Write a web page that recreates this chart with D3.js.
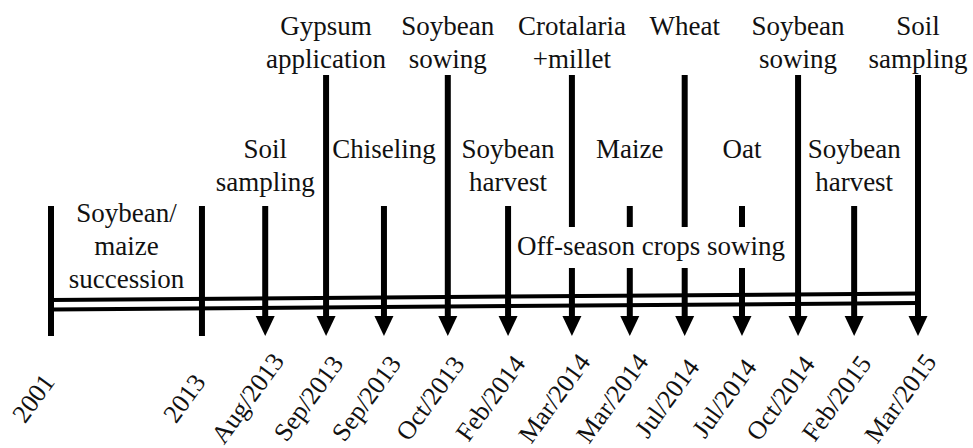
<!DOCTYPE html>
<html>
<head>
<meta charset="utf-8">
<script src="https://cdn.jsdelivr.net/npm/d3@7"></script>
<style>
  html, body { margin: 0; padding: 0; background: #fff; }
  svg text { font-family: "Liberation Serif", "Times New Roman", serif; fill: #111; }
</style>
</head>
<body>
<div id="chart"></div>
<script>
// Timeline events, left to right
const eventDates = ["2001", "2013", "Aug/2013", "Sep/2013", "Sep/2013", "Oct/2013", "Feb/2014",
  "Mar/2014", "Mar/2014", "Jul/2014", "Jul/2014", "Oct/2014", "Feb/2015", "Mar/2015"];
// position along the (schematic) timeline, in event slots
const eventPos = [-2.53, 0, 1.06, 2.08, 3.05, 4.12, 5.13, 6.2, 7.17, 8.09, 9.05, 9.99, 10.93, 12];
const eventKind = ["tick", "tick", "arrow", "arrow", "arrow", "arrow", "arrow",
  "arrow", "arrow", "arrow", "arrow", "arrow", "arrow", "arrow"];
const eventLevel = ["low", "low", "mid", "top", "mid", "top", "mid",
  "top", "mid", "top", "mid", "top", "mid", "top"];
const eventText = [[], [], ["Soil", "sampling"], ["Gypsum", "application"], ["Chiseling"],
  ["Soybean", "sowing"], ["Soybean", "harvest"], ["Crotalaria", "+millet"], ["Maize"],
  ["Wheat"], ["Oat"], ["Soybean", "sowing"], ["Soybean", "harvest"], ["Soil", "sampling"]];
const periodText = ["Soybean/", "maize", "succession"];
const offSeasonText = "Off-season crops sowing";
const offSeasonIdx = [7, 8, 9, 10];

const width = 973;
const height = 448;
const margins = { left: 51, right: 55 };
const fontSize = 27;
const lineH = 32.5;

const events = eventDates.map((d, i) => ({
  date: d, pos: eventPos[i], kind: eventKind[i], level: eventLevel[i], text: eventText[i], idx: i
}));

const x = d3.scaleLinear()
  .domain(d3.extent(eventPos))
  .range([margins.left, width - margins.right]);

// vertical layout
const yStart = { top: 75, mid: 206, low: 206 };
const yText = { top: 35, mid: 158 };
const gapTop = 227, gapBottom = 268;
const yTip = 336, headH = 20, headW = 19;
// the double axis line is slightly tilted in the original
const axisY = d3.scaleLinear().domain(x.range()).range([300, 293.5]);
const axisGap = 9.5;

const svg = d3.select("#chart")
  .append("svg")
  .attr("width", width)
  .attr("height", height);

// double horizontal line
const axisG = svg.append("g").attr("class", "axis-line");
[0, axisGap].forEach((off) => {
  axisG.append("line")
    .attr("x1", x.range()[0]).attr("x2", x.range()[1])
    .attr("y1", axisY(x.range()[0]) + off).attr("y2", axisY(x.range()[1]) + off)
    .attr("stroke", "#000").attr("stroke-width", 4);
});

// vertical lines (split where the off-season label sits)
const stemsG = svg.append("g").attr("class", "stems");
events.forEach((d) => {
  const yEnd = d.kind === "arrow" ? yTip - headH + 2 : yTip;
  const segs = offSeasonIdx.includes(d.idx)
    ? [[yStart[d.level], gapTop], [gapBottom, yEnd]]
    : [[yStart[d.level], yEnd]];
  segs.forEach(([y1, y2]) => {
    stemsG.append("line")
      .attr("x1", x(d.pos)).attr("x2", x(d.pos))
      .attr("y1", y1).attr("y2", y2)
      .attr("stroke", "#000").attr("stroke-width", 6);
  });
});

// arrow heads
svg.append("g").attr("class", "heads")
  .selectAll("path")
  .data(events.filter((d) => d.kind === "arrow"))
  .join("path")
  .attr("d", (d) => {
    const cx = x(d.pos);
    return `M${cx - headW / 2},${yTip - headH}L${cx + headW / 2},${yTip - headH}L${cx},${yTip}Z`;
  })
  .attr("fill", "#000");

// event labels above the lines
const labelsG = svg.append("g").attr("class", "labels")
  .attr("font-family", "'Liberation Serif', 'Times New Roman', serif");
events.filter((d) => d.text.length).forEach((d) => {
  const t = labelsG.append("text")
    .attr("x", x(d.pos))
    .attr("y", yText[d.level])
    .attr("text-anchor", "middle")
    .attr("font-size", fontSize);
  d.text.forEach((line, j) => {
    t.append("tspan").attr("x", x(d.pos)).attr("dy", j === 0 ? 0 : lineH).text(line);
  });
});

// period label between 2001 and 2013
const px = (x(eventPos[0]) + x(eventPos[1])) / 2;
const pt = labelsG.append("text")
  .attr("x", px)
  .attr("y", 222)
  .attr("text-anchor", "middle")
  .attr("font-size", fontSize);
periodText.forEach((line, j) => {
  pt.append("tspan").attr("x", px).attr("dy", j === 0 ? 0 : 33).text(line);
});

// off-season label across the split lines
labelsG.append("text")
  .attr("x", (x(eventPos[offSeasonIdx[0]]) + x(eventPos[offSeasonIdx[3]])) / 2 - 6)
  .attr("y", 255)
  .attr("text-anchor", "middle")
  .attr("font-size", fontSize)
  .text(offSeasonText);

// rotated date labels
svg.append("g").attr("class", "dates")
  .attr("font-family", "'Liberation Serif', 'Times New Roman', serif")
  .selectAll("text")
  .data(events)
  .join("text")
  .attr("transform", (d) => `translate(${x(d.pos) - 18},${398}) rotate(-54)`)
  .attr("text-anchor", "middle")
  .attr("dy", "0.35em")
  .attr("font-size", 26)
  .text((d) => d.date);
</script>
</body>
</html>
